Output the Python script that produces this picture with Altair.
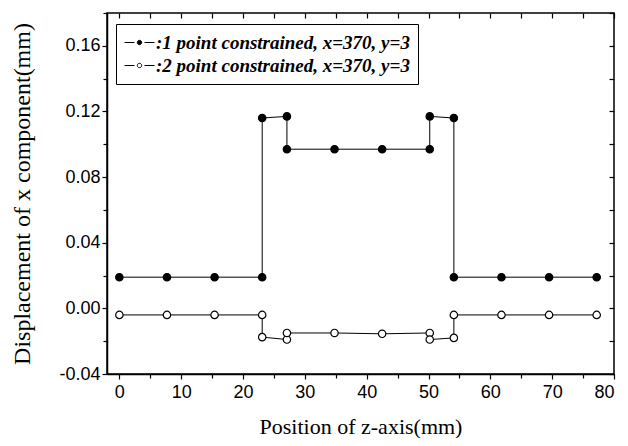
import altair as alt
import pandas as pd

# Series 1: filled circles
x1 = [0, 7.7, 15.4, 23.1, 23.1, 27.1, 27.1, 34.8, 42.5, 50.2, 50.2, 54.1, 54.1, 61.8, 69.5, 77.2]
y1 = [0.019, 0.019, 0.019, 0.019, 0.116, 0.117, 0.097, 0.097, 0.097, 0.097, 0.117, 0.116, 0.019, 0.019, 0.019, 0.019]
# Series 2: open circles
x2 = [0, 7.7, 15.4, 23.1, 23.1, 27.1, 27.1, 34.8, 42.5, 50.2, 50.2, 54.1, 54.1, 61.8, 69.5, 77.2]
y2 = [-0.004, -0.004, -0.004, -0.004, -0.0175, -0.019, -0.015, -0.015, -0.0155, -0.015, -0.019, -0.018, -0.004, -0.004, -0.004, -0.004]

names = [":1 point constrained, x=370, y=3", ":2 point constrained, x=370, y=3"]
fills = ["black", "white"]

x_ticks = list(range(0, 81, 5))
y_ticks = [round(-0.04 + 0.02 * i, 2) for i in range(12)]

rows = []
for i, (a, b) in enumerate(zip(x1, y1)):
    rows.append({"x": a, "y": b, "series": names[0], "i": i})
for i, (a, b) in enumerate(zip(x2, y2)):
    rows.append({"x": a, "y": b, "series": names[1], "i": i})
df = pd.DataFrame(rows)

xscale = alt.Scale(domain=[-2, 80], nice=False, zero=False)
yscale = alt.Scale(domain=[-0.04, 0.18], nice=False, zero=False)

tick_font = "Liberation Sans"
title_font = "Liberation Serif"

x_bottom = alt.Axis(
    values=x_ticks,
    labelExpr="datum.value % 10 == 0 ? datum.label : ''",
    tickSize={"condition": {"test": "datum.value % 10 == 0", "value": 5}, "value": 4},
    labelFont=tick_font, labelFontSize=18, labelColor="black", labelPadding=4,
    title="Position of z-axis(mm)", titleFont=title_font, titleFontSize=22,
    titleFontWeight="normal", titleColor="black", titlePadding=15,
    domainColor="black", domainWidth=1.5, tickColor="black", tickWidth=1.2,
    grid=False, format="d",
)
y_left = alt.Axis(
    values=y_ticks,
    labelExpr="round(datum.value * 100) % 4 == 0 ? replace(format(datum.value, '.2f'), '\u2212', '-') : ''",
    tickSize={"condition": {"test": "round(datum.value * 100) % 4 == 0", "value": 5}, "value": 4},
    labelFont=tick_font, labelFontSize=18, labelColor="black", labelPadding=2,
    title="Displacement of x component(mm)", titleFont=title_font, titleFontSize=24,
    titleFontWeight="normal", titleColor="black", titlePadding=24,
    domainColor="black", domainWidth=1.5, tickColor="black", tickWidth=1.2,
    grid=False,
)
x_top = alt.Axis(
    orient="top", values=x_ticks, labels=False, title=None, domain=False,
    tickSize=5, offset=-5, tickColor="black", tickWidth=1.2, grid=False,
)
y_right = alt.Axis(
    orient="right", values=y_ticks, labels=False, title=None, domain=False,
    tickSize=5, offset=-5, tickColor="black", tickWidth=1.2, grid=False,
)

legend_symbol = (
    "M-1,0H0 M1,0H2 "
    "M0.28,0A0.22,0.22 0 1,0 0.72,0A0.22,0.22 0 1,0 0.28,0Z"
)

lines = alt.Chart(df).mark_line(color="black", strokeWidth=1).encode(
    x=alt.X("x:Q", scale=xscale, axis=x_bottom),
    y=alt.Y("y:Q", scale=yscale, axis=y_left),
    detail="series:N",
    order="i:Q",
)

points = alt.Chart(df).mark_point(
    shape="circle", size=55, stroke="black", strokeWidth=1.2, opacity=1, fillOpacity=1
).encode(
    x=alt.X("x:Q", scale=xscale, axis=x_top),
    y=alt.Y("y:Q", scale=yscale, axis=y_right),
    fill=alt.Fill(
        "series:N",
        scale=alt.Scale(domain=names, range=fills),
        legend=alt.Legend(
            orient="none", legendX=9, legendY=11, title=None,
            strokeColor="black", fillColor="white", padding=8,
            labelFont=title_font, labelFontStyle="italic", labelFontWeight="bold",
            labelFontSize=19, labelColor="black", labelOffset=11,
            symbolType=legend_symbol, symbolSize=400, symbolStrokeColor="black",
            symbolStrokeWidth=1, rowPadding=2, labelLimit=400,
        ),
    ),
)

chart = alt.layer(lines, points).resolve_axis(x="independent", y="independent").properties(
    width=507, height=361,
    autosize=alt.AutoSizeParams(type="none"),
    padding={"left": 99, "top": 5, "right": 6, "bottom": 64},
    background="white",
).configure_view(stroke="black", strokeWidth=1.5)

chart.save("out.html", embed_options={"renderer": "svg", "actions": False})
